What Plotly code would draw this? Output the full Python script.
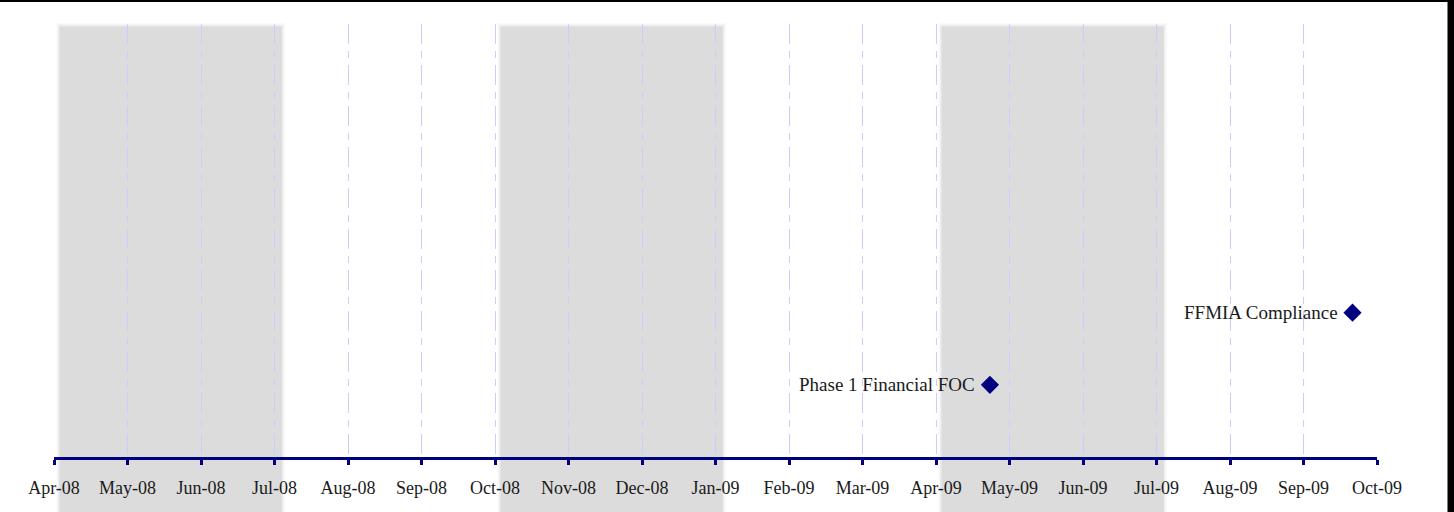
import calendar
import datetime as dt
import plotly.graph_objects as go

# ---- data ----
months = ["Apr-08", "May-08", "Jun-08", "Jul-08", "Aug-08", "Sep-08", "Oct-08",
          "Nov-08", "Dec-08", "Jan-09", "Feb-09", "Mar-09", "Apr-09", "May-09",
          "Jun-09", "Jul-09", "Aug-09", "Sep-09", "Oct-09"]
milestone_names = ["Phase 1 Financial FOC", "FFMIA Compliance"]
milestone_dates = ["2009-04-23", "2009-09-21"]
milestone_levels = [1, 2]
band_starts = ["Apr-08", "Oct-08", "Apr-09"]
band_ends = ["Jul-08", "Jan-09", "Jul-09"]

# ---- helpers ----
def month_pos(datestr):
    d = dt.date.fromisoformat(datestr)
    label = d.strftime("%b-%y")
    idx = months.index(label)
    ndays = calendar.monthrange(d.year, d.month)[1]
    return idx + (d.day - 1) / ndays

tick_vals = list(range(len(months)))
ms_x = [month_pos(s) for s in milestone_dates]

FONT = "Liberation Serif, Times New Roman, serif"
NAVY = "#000080"

fig = go.Figure()
fig.add_trace(go.Scatter(
    x=ms_x, y=milestone_levels, mode="markers",
    text=milestone_names,
    marker=dict(symbol="diamond", size=14, color=NAVY),
    hoverinfo="text", showlegend=False, cliponaxis=False,
))

annotations = [
    dict(x=x, y=y, xref="x", yref="y", text=name, showarrow=False,
         xanchor="right", yanchor="middle", xshift=-13,
         font=dict(family=FONT, size=19, color="#1a1a1a"))
    for x, y, name in zip(ms_x, milestone_levels, milestone_names)
]

shapes = []
# shaded quarters with soft shadow edges
for s, e in zip(band_starts, band_ends):
    x0 = months.index(s)
    x1 = months.index(e)
    for pad, op in [(0.04, 0.25), (0.02, 0.5)]:
        shapes.append(dict(type="rect", xref="x", yref="paper", layer="below",
                           x0=x0 + 0.075 - pad, x1=x1 + 0.1 + pad,
                           y0=-0.3, y1=0.994 + pad * 0.2,
                           fillcolor="#e4e4e4", opacity=op, line_width=0))
    shapes.append(dict(type="rect", xref="x", yref="paper", layer="below",
                       x0=x0 + 0.075, x1=x1 + 0.1, y0=-0.3, y1=0.994,
                       fillcolor="#dcdcdc", line_width=0))

# black frame edges (top and right)
shapes.append(dict(type="rect", xref="paper", yref="paper", xsizemode="pixel",
                   xanchor=1, x0=70.5, x1=80, y0=-0.3, y1=1.2,
                   fillcolor="black", line_width=0, layer="above"))
shapes.append(dict(type="rect", xref="paper", yref="paper", ysizemode="pixel",
                   yanchor=1, y0=22, y1=30, x0=-0.1, x1=1.1,
                   fillcolor="black", line_width=0, layer="above"))

fig.update_layout(
    width=1454, height=512,
    margin=dict(l=54, r=77, t=24, b=55),
    paper_bgcolor="white", plot_bgcolor="rgba(0,0,0,0)",
    shapes=shapes, annotations=annotations,
    xaxis=dict(
        range=[0, len(months) - 1],
        tickmode="array", tickvals=tick_vals, ticktext=months,
        showgrid=True, gridcolor="#ccccff", gridwidth=1,
        griddash="20px,7px,7px,7px",
        showline=True, linecolor=NAVY, linewidth=3,
        ticks="outside", tickcolor=NAVY, tickwidth=3, ticklen=5,
        ticklabelstandoff=7, automargin=False,
        tickfont=dict(family=FONT, size=18, color="#1a1a1a"),
        zeroline=False, fixedrange=True,
    ),
    yaxis=dict(range=[0, 6], visible=False, showgrid=False, zeroline=False,
               fixedrange=True, automargin=False),
)

fig.write_html(
    "out.html",
    config={"displayModeBar": False},
    post_script="document.body.style.margin='0';document.body.style.overflow='hidden';",
)
